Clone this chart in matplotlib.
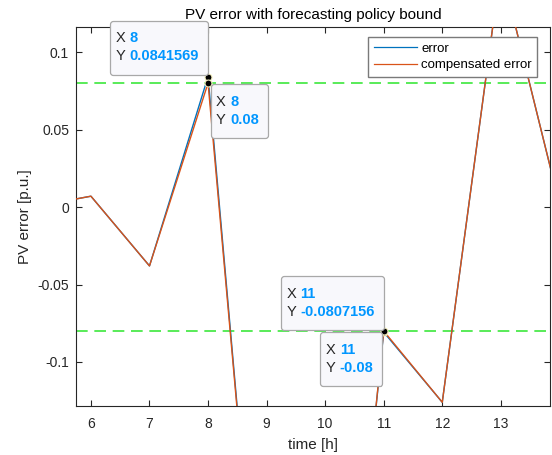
import matplotlib
matplotlib.use("Agg")
import matplotlib.pyplot as plt
from matplotlib.offsetbox import TextArea, HPacker, VPacker, AnnotationBbox, DrawingArea
from matplotlib.ticker import FixedLocator, FuncFormatter

plt.rcParams['font.family'] = ['Liberation Sans', 'DejaVu Sans']
plt.rcParams['axes.unicode_minus'] = False

# ---- data ----
time_h = [5, 6, 7, 8, 9, 10, 11, 12, 13, 14]
error = [0.0, 0.007, -0.038, 0.0841569, -0.344, -0.45, -0.0807156, -0.126, 0.155, 0.002]
compensated_error = [0.0, 0.007, -0.038, 0.08, -0.344, -0.45, -0.08, -0.126, 0.155, 0.002]
bound_upper = 0.08
bound_lower = -0.08
x_ticks = [6, 7, 8, 9, 10, 11, 12, 13]
y_ticks = [-0.1, -0.05, 0, 0.05, 0.1]
y_tick_labels = ['-0.1', '-0.05', '0', '0.05', '0.1']
tips = [  # (x, y, x label, y label, placement)
    (8, 0.0841569, '8', '0.0841569', 'upper_left'),
    (8, 0.08, '8', '0.08', 'lower_right'),
    (11, -0.0807156, '11', '-0.0807156', 'upper_left'),
    (11, -0.08, '11', '-0.08', 'lower_left'),
]

W, H = 552, 455
fig = plt.figure(figsize=(W / 100, H / 100), dpi=100)
ax = fig.add_axes([76 / W, 1 - 406 / H, (550 - 76) / W, (406 - 27) / H])

blue = '#0072BD'
orange = '#D95319'
green = '#3CE83C'
dark = '#262626'

ax.axhline(bound_upper, color=green, lw=1.2, ls=(0, (7, 4)), zorder=1)
ax.axhline(bound_lower, color=green, lw=1.2, ls=(0, (7, 4)), zorder=1)
ax.plot(time_h, error, color=blue, lw=1.0, label='error', zorder=2)
ax.plot(time_h, compensated_error, color=orange, lw=1.0, label='compensated error', zorder=3)

ax.set_xlim(5.745, 13.84)
ax.set_ylim(-0.1284, 0.1162)
ax.xaxis.set_major_locator(FixedLocator(x_ticks))
ax.yaxis.set_major_locator(FixedLocator(y_ticks))
ax.yaxis.set_major_formatter(FuncFormatter(lambda v, p: y_tick_labels[y_ticks.index(min(y_ticks, key=lambda t: abs(t - v)))]))
ax.tick_params(direction='in', length=4, width=0.8, colors=dark, labelsize=10,
               top=True, right=True)
ax.tick_params(axis='x', pad=8)
ax.tick_params(axis='y', pad=5)
for s in ax.spines.values():
    s.set_color(dark)
    s.set_linewidth(0.8)

ax.set_title('PV error with forecasting policy bound', fontsize=11, color='black', pad=6)
ax.set_xlabel('time [h]', fontsize=11, color=dark, labelpad=5)
ax.set_ylabel('PV error [p.u.]', fontsize=11, color=dark, labelpad=4)

leg = ax.legend(loc='upper right', bbox_to_anchor=((537 - 76) / 474, (406 - 37) / 379),
                borderaxespad=0, fontsize=9.5, handlelength=3.3, fancybox=False,
                framealpha=1, edgecolor='#7a7a7a', borderpad=0.4, labelspacing=0.35,
                handletextpad=0.3)
leg.get_frame().set_linewidth(1.0)
for h in leg.get_lines():
    h.set_linewidth(0.9)

# data tips
align = {
    'upper_left': ((1, 0), (0, 1.5)),
    'lower_right': ((0, 1), (2, -1)),
    'lower_left': ((1, 1), (-1, -1)),
}
for (tx, ty, xl, yl, place) in tips:
    ax.plot([tx], [ty], 'o', ms=5, mfc='black', mec='#f5f0c0', mew=0.8, zorder=6, clip_on=False)
    row1 = HPacker(children=[TextArea('X ', textprops=dict(color=dark, fontsize=10.5)),
                             TextArea(xl, textprops=dict(color='#0096FF', fontsize=10.5, fontweight='bold'))],
                   align='baseline', pad=0, sep=0)
    row2 = HPacker(children=[TextArea('Y ', textprops=dict(color=dark, fontsize=10.5)),
                             TextArea(yl, textprops=dict(color='#0096FF', fontsize=10.5, fontweight='bold'))],
                   align='baseline', pad=0, sep=0)
    inner = VPacker(children=[row1, row2], align='left', pad=0, sep=3)
    inner_h = HPacker(children=[inner, DrawingArea(2.5, 0)], pad=0, sep=0)
    box = VPacker(children=[DrawingArea(0, 3.5), inner_h, DrawingArea(0, 4)],
                  align='left', pad=4, sep=0)
    ba, off = align[place]
    ab = AnnotationBbox(box, (tx, ty), xybox=off, xycoords='data', boxcoords='offset points',
                        box_alignment=ba, pad=0.0, annotation_clip=False,
                        bboxprops=dict(boxstyle='round,pad=0,rounding_size=0.2', fc='#F8F8FC',
                                       ec='#A8A8A8', lw=0.9))
    ab.set_zorder(7)
    ax.add_artist(ab)

fig.savefig('out.png', dpi=100)
